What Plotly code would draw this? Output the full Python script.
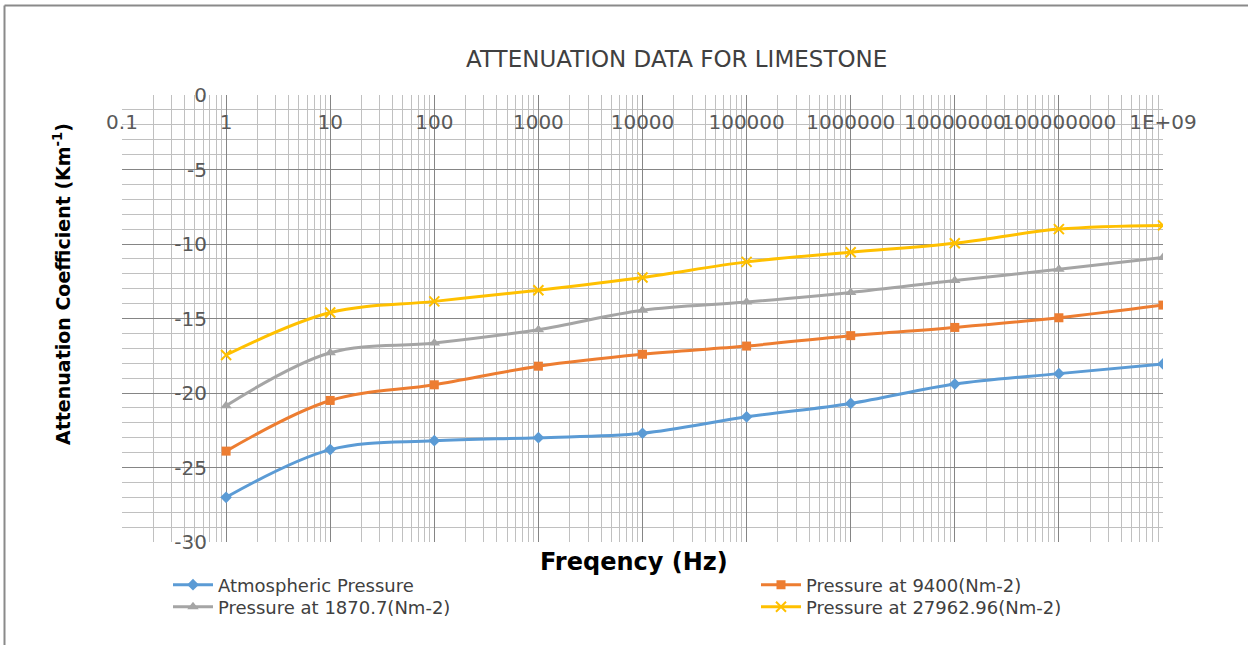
import plotly.graph_objects as go

# Frequency points (Hz) and attenuation coefficients (Km^-1) per pressure
freq = [1, 10, 100, 1e3, 1e4, 1e5, 1e6, 1e7, 1e8, 1e9]
atmospheric = [-27.0, -23.8, -23.2, -23.0, -22.7, -21.6, -20.7, -19.4, -18.7, -18.05]
p_9400 = [-23.9, -20.5, -19.45, -18.2, -17.4, -16.85, -16.15, -15.6, -14.95, -14.1]
p_1870_7 = [-20.85, -17.3, -16.65, -15.75, -14.45, -13.9, -13.25, -12.45, -11.7, -10.9]
p_27962_96 = [-17.45, -14.6, -13.85, -13.1, -12.25, -11.2, -10.55, -9.95, -9.0, -8.75]

x_tickvals = [0.1, 1, 10, 100, 1e3, 1e4, 1e5, 1e6, 1e7, 1e8, 1e9]
x_ticktext = ["0.1", "1", "10", "100", "1000", "10000", "100000", "1000000",
              "10000000", "100000000", "1E+09"]
y_tickvals = [0, -5, -10, -15, -20, -25, -30]
y_ticktext = ["0", "-5", "-10", "-15", "-20", "-25", "-30"]

W, H = 1248, 645
L, R, T, B = 122, 1163, 95, 542  # plot area in pixels


def px_x(p):
    return (p - L) / (R - L)


def px_y(p):
    return (B - p) / (B - T)


# name, values, colour, marker, marker size, legend id, legend text left/centre y
series = [
    ("Atmospheric Pressure", atmospheric, "#5B9BD5", "diamond", 9, "legend", 168, 585),
    ("Pressure at 1870.7(Nm-2)", p_1870_7, "#A5A5A5", "triangle-up", 10, "legend2", 168, 607),
    ("Pressure at 9400(Nm-2)", p_9400, "#ED7D31", "square", 9, "legend3", 756, 585),
    ("Pressure at 27962.96(Nm-2)", p_27962_96, "#FFC000", "x-thin", 10, "legend4", 756, 607),
]

legend_font = dict(family="DejaVu Sans", size=18, color="#404040")

fig = go.Figure()
legends = {}
for name, vals, color, sym, size, leg, lx, ly in series:
    fig.add_trace(go.Scatter(
        x=freq, y=vals, name=name, mode="lines+markers",
        line=dict(color=color, width=3, shape="spline", smoothing=1),
        marker=dict(symbol=sym, size=size, color=color,
                    line=dict(color=color, width=2 if sym == "x-thin" else 0)),
        legend=leg,
    ))
    legends[leg] = dict(
        orientation="v", x=px_x(lx), y=px_y(ly), xanchor="left", yanchor="middle",
        font=legend_font, bgcolor="rgba(0,0,0,0)", itemwidth=40,
        borderwidth=0, tracegroupgap=0,
    )

tick_font = dict(family="DejaVu Sans", size=20, color="#595959")

fig.update_layout(
    width=W, height=H,
    margin=dict(l=L, r=W - R, t=T, b=H - B),
    paper_bgcolor="white", plot_bgcolor="white",
    showlegend=True,
    xaxis=dict(
        type="log", range=[-1, 9], side="bottom", anchor="free", position=1,
        tickvals=x_tickvals, ticktext=x_ticktext, tickangle=0,
        ticklabelstandoff=13,
        tickfont=tick_font, ticks="",
        showgrid=True, gridcolor="#858585", gridwidth=1,
        minor=dict(showgrid=True, gridcolor="#c0c0c0", gridwidth=1, dtick="D1"),
        showline=False, zeroline=False,
    ),
    yaxis=dict(
        range=[-30, 0], anchor="free", position=px_x(227),
        tickvals=y_tickvals, ticktext=y_ticktext,
        tickfont=tick_font, ticks="", ticklabelstandoff=20,
        showgrid=True, gridcolor="#858585", gridwidth=1,
        minor=dict(showgrid=True, gridcolor="#c0c0c0", gridwidth=1, dtick=1),
        showline=False, zeroline=False,
    ),
    annotations=[
        dict(text="ATTENUATION DATA FOR LIMESTONE", xref="paper", yref="paper",
             x=px_x(676), y=px_y(59), xanchor="center", yanchor="middle",
             showarrow=False,
             font=dict(family="DejaVu Sans", size=23, color="#404040")),
        dict(text="<b>Freqency (Hz)</b>", xref="paper", yref="paper",
             x=px_x(634), y=px_y(562), xanchor="center", yanchor="middle",
             showarrow=False,
             font=dict(family="DejaVu Sans", size=24, color="#000000")),
        dict(text="<b>Attenuation Coefficient (Km<sup>-1</sup>)</b>", xref="paper",
             yref="paper", x=px_x(62), y=px_y(284), xanchor="center",
             yanchor="middle", showarrow=False, textangle=-90,
             font=dict(family="DejaVu Sans", size=19, color="#000000")),
    ],
    shapes=[
        dict(type="line", xref="paper", yref="paper", x0=px_x(4.5), x1=px_x(4.5),
             y0=px_y(H), y1=px_y(5.5), line=dict(color="#8a8a8a", width=2)),
        dict(type="line", xref="paper", yref="paper", x0=px_x(4.5), x1=px_x(W),
             y0=px_y(5.5), y1=px_y(5.5), line=dict(color="#8a8a8a", width=2)),
    ],
    **legends,
)

fig.write_html("out.html")
